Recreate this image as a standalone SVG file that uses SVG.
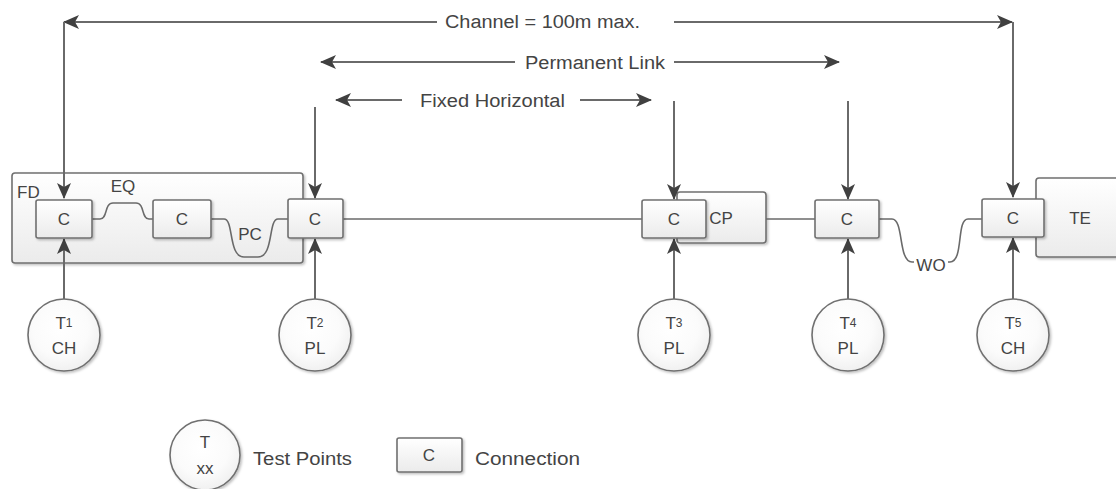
<svg xmlns="http://www.w3.org/2000/svg" width="1116" height="489" viewBox="0 0 1116 489">
<defs>
<style>
.ln{stroke:#6a6a6a;stroke-width:2;fill:none}
.cn{stroke:#6a6a6a;stroke-width:1.6;fill:none}
.bx{stroke:#707070;stroke-width:1.6;fill:url(#gb)}
.t{font-family:"Liberation Sans",Arial,sans-serif;fill:#444;font-size:17px}
.lg{font-size:18px}
.c{text-anchor:middle;dominant-baseline:central}
</style>
<linearGradient id="gb" x1="0" y1="0" x2="0" y2="1"><stop offset="0" stop-color="#ffffff"/><stop offset="1" stop-color="#ebebeb"/></linearGradient>
<radialGradient id="gc" cx="0.45" cy="0.4" r="0.65"><stop offset="0" stop-color="#ffffff"/><stop offset="0.6" stop-color="#fbfbfb"/><stop offset="1" stop-color="#eeeeee"/></radialGradient>
<filter id="sh" x="-10%" y="-10%" width="130%" height="130%"><feDropShadow dx="1.5" dy="1.5" stdDeviation="1" flood-color="#000" flood-opacity="0.25"/></filter>
<marker id="ah" viewBox="0 0 16 14" refX="15" refY="7" markerWidth="16" markerHeight="14" orient="auto" markerUnits="userSpaceOnUse"><path d="M0,0 L16,7 L0,14 L4,7 z" fill="#404040"/></marker>
</defs>

<g id="fd"><rect class="bx" x="12" y="173" width="291" height="90" rx="3" filter="url(#sh)"/><text class="t" x="17" y="198">FD</text></g>
<g id="cp"><rect class="bx" x="677" y="192" width="89" height="51" rx="3" filter="url(#sh)"/><text class="t c" x="721" y="218">CP</text></g>
<g id="te"><rect class="bx" x="1036" y="178" width="90" height="79" rx="3" filter="url(#sh)"/><text class="t c" x="1080" y="218">TE</text></g>

<g id="connectors">
<line class="ln" x1="437" y1="22" x2="64" y2="22" marker-end="url(#ah)"/>
<line class="ln" x1="64" y1="22" x2="64" y2="198" marker-end="url(#ah)"/>
<line class="ln" x1="674" y1="22" x2="1012" y2="22" marker-end="url(#ah)"/>
<line class="ln" x1="1013" y1="22" x2="1013" y2="197" marker-end="url(#ah)"/>
<line class="ln" x1="515" y1="62" x2="321" y2="62" marker-end="url(#ah)"/>
<line class="ln" x1="674" y1="62" x2="839" y2="62" marker-end="url(#ah)"/>
<line class="ln" x1="402" y1="100" x2="336" y2="100" marker-end="url(#ah)"/>
<line class="ln" x1="580" y1="100" x2="651" y2="100" marker-end="url(#ah)"/>
<line class="ln" x1="315" y1="107" x2="315" y2="198" marker-end="url(#ah)"/>
<line class="ln" x1="674" y1="101" x2="674" y2="199" marker-end="url(#ah)"/>
<line class="ln" x1="848" y1="101" x2="848" y2="199" marker-end="url(#ah)"/>
<line class="ln" x1="64" y1="299" x2="64" y2="239" marker-end="url(#ah)"/>
<line class="ln" x1="315" y1="299" x2="315" y2="239" marker-end="url(#ah)"/>
<line class="ln" x1="674" y1="299" x2="674" y2="239" marker-end="url(#ah)"/>
<line class="ln" x1="848" y1="299" x2="848" y2="239" marker-end="url(#ah)"/>
<line class="ln" x1="1013" y1="299" x2="1013" y2="238" marker-end="url(#ah)"/>
<line class="cn" x1="343" y1="219" x2="642" y2="219"/>
<line class="cn" x1="766" y1="219" x2="815" y2="219"/>
<path class="cn" d="M92,219 H100 C108,219 104,203 113,203 H136 C145,203 141,219 149,219 H153"/>
<path class="cn" d="M211,219 H224 C234,219 228,257 244,257 H258 C274,257 268,219 278,219 H288"/>
<path class="cn" d="M879,219 H892 C904,219 898,262 912,262 H950 C964,262 956,219 968,219 H982"/>
</g>

<g id="dim-labels">
<text class="t lg" x="445" y="28" textLength="195" lengthAdjust="spacingAndGlyphs">Channel = 100m max.</text>
<text class="t lg" x="525" y="69" textLength="140" lengthAdjust="spacingAndGlyphs">Permanent Link</text>
<text class="t lg" x="420" y="107" textLength="145" lengthAdjust="spacingAndGlyphs">Fixed Horizontal</text>
<text class="t c" x="123" y="186">EQ</text>
<text class="t c" x="250" y="234">PC</text>
<g id="wo"><rect x="914" y="253" width="34" height="22" fill="#fff"/><text class="t c" x="931" y="265">WO</text></g>
</g>

<g id="c1"><rect class="bx" x="36" y="200" width="56" height="38" rx="2" filter="url(#sh)"/><text class="t c" x="64" y="219">C</text></g>
<g id="c2"><rect class="bx" x="153" y="200" width="58" height="38" rx="2" filter="url(#sh)"/><text class="t c" x="182" y="219">C</text></g>
<g id="c3"><rect class="bx" x="288" y="199" width="55" height="39" rx="2" filter="url(#sh)"/><text class="t c" x="315" y="219">C</text></g>
<g id="c4"><rect class="bx" x="642" y="200" width="64" height="38" rx="2" filter="url(#sh)"/><text class="t c" x="674" y="219">C</text></g>
<g id="c5"><rect class="bx" x="815" y="200" width="64" height="38" rx="2" filter="url(#sh)"/><text class="t c" x="847" y="219">C</text></g>
<g id="c6"><rect class="bx" x="982" y="199" width="62" height="38" rx="2" filter="url(#sh)"/><text class="t c" x="1013" y="218">C</text></g>

<g id="t1"><circle cx="64" cy="335" r="36" fill="url(#gc)" stroke="#707070" stroke-width="1.6" filter="url(#sh)"/><text class="t c" x="64" y="323">T<tspan font-size="12">1</tspan></text><text class="t c" x="64" y="348">CH</text></g>
<g id="t2"><circle cx="315" cy="335" r="36" fill="url(#gc)" stroke="#707070" stroke-width="1.6" filter="url(#sh)"/><text class="t c" x="315" y="323">T<tspan font-size="12">2</tspan></text><text class="t c" x="315" y="348">PL</text></g>
<g id="t3"><circle cx="674" cy="335" r="36" fill="url(#gc)" stroke="#707070" stroke-width="1.6" filter="url(#sh)"/><text class="t c" x="674" y="323">T<tspan font-size="12">3</tspan></text><text class="t c" x="674" y="348">PL</text></g>
<g id="t4"><circle cx="848" cy="335" r="36" fill="url(#gc)" stroke="#707070" stroke-width="1.6" filter="url(#sh)"/><text class="t c" x="848" y="323">T<tspan font-size="12">4</tspan></text><text class="t c" x="848" y="348">PL</text></g>
<g id="t5"><circle cx="1013" cy="335" r="36" fill="url(#gc)" stroke="#707070" stroke-width="1.6" filter="url(#sh)"/><text class="t c" x="1013" y="323">T<tspan font-size="12">5</tspan></text><text class="t c" x="1013" y="348">CH</text></g>

<g id="legend">
<g id="leg-t"><circle cx="205" cy="455" r="35" fill="url(#gc)" stroke="#707070" stroke-width="1.6" filter="url(#sh)"/><text class="t c" x="205" y="442">T</text><text class="t c" x="205" y="468" font-size="14">xx</text></g>
<text class="t lg" x="253" y="465" textLength="99" lengthAdjust="spacingAndGlyphs">Test Points</text>
<g id="leg-c"><rect class="bx" x="397" y="438" width="65" height="34" rx="2" filter="url(#sh)"/><text class="t c" x="429" y="455">C</text></g>
<text class="t lg" x="475" y="465" textLength="105" lengthAdjust="spacingAndGlyphs">Connection</text>
</g>
</svg>
